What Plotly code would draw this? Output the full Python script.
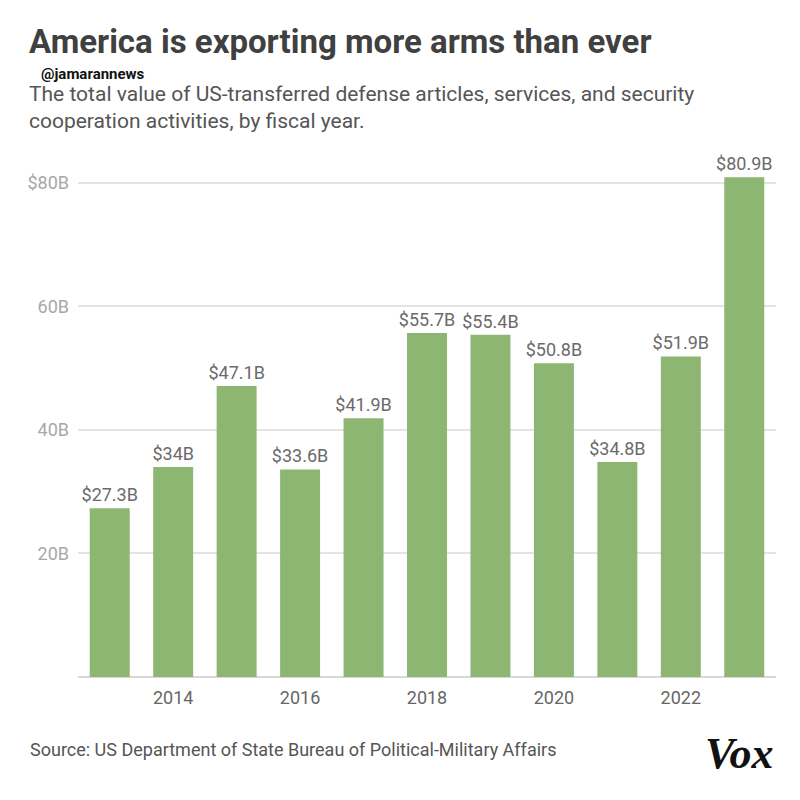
import plotly.graph_objects as go

years = [2013, 2014, 2015, 2016, 2017, 2018, 2019, 2020, 2021, 2022, 2023]
values = [27.3, 34, 47.1, 33.6, 41.9, 55.7, 55.4, 50.8, 34.8, 51.9, 80.9]
labels = ["$27.3B", "$34B", "$47.1B", "$33.6B", "$41.9B", "$55.7B", "$55.4B",
          "$50.8B", "$34.8B", "$51.9B", "$80.9B"]
ytick_vals = [0, 20, 40, 60, 80]
ytick_text = ["", "20B", "40B", "60B", "$80B"]
xtick_vals = [2014, 2016, 2018, 2020, 2022]

fig = go.Figure()
fig.add_trace(go.Bar(
    x=years, y=values, text=labels, textposition="outside",
    textfont=dict(family="Roboto", size=18, color="#6b6b6b"),
    constraintext="none",
    marker=dict(color="#8db672", line=dict(width=0)),
    width=0.63, cliponaxis=False,
))

fig.update_layout(
    width=800, height=800,
    paper_bgcolor="white", plot_bgcolor="white",
    margin=dict(l=70, r=32, t=147, b=131),
    showlegend=False,
    xaxis=dict(range=[2012.5, 2023.5], tickvals=xtick_vals, showgrid=False,
               zeroline=False, showline=False, ticks="", ticklabelstandoff=8,
               tickfont=dict(family="Roboto", size=18, color="#666666")),
    yaxis=dict(range=[0, 84.5], tickvals=ytick_vals, ticktext=ytick_text,
               showgrid=True, gridcolor="#e4e4e4", gridwidth=1.5,
               zeroline=True, zerolinecolor="#d8d8d8", zerolinewidth=1.5,
               ticks="", ticklabelstandoff=8,
               tickfont=dict(family="Roboto", size=18, color="#a8a8a8")),
    bargap=0.37,
)

fig.add_annotation(xref="paper", yref="paper", x=-0.0716, y=1.2165, xanchor="left",
                   yanchor="middle", showarrow=False, borderpad=0,
                   text="<b>America is exporting more arms than ever</b>",
                   font=dict(family="Roboto", size=33, color="#404040"))
fig.add_annotation(xref="paper", yref="paper", x=-0.0544, y=1.1552, xanchor="left",
                   yanchor="middle", showarrow=False, borderpad=0,
                   text="<b>@jamarannews</b>",
                   font=dict(family="Roboto", size=15, color="#111111"))
fig.add_annotation(xref="paper", yref="paper", x=-0.0716, y=1.0915, xanchor="left",
                   yanchor="middle", showarrow=False, align="left", borderpad=0,
                   text="The total value of US-transferred defense articles, services, and security<br>cooperation activities, by fiscal year.",
                   font=dict(family="Roboto", size=21, color="#555555"))
fig.add_annotation(xref="paper", yref="paper", x=-0.0716, y=-0.1398, xanchor="left",
                   yanchor="middle", showarrow=False,
                   text="Source: US Department of State Bureau of Political-Military Affairs",
                   font=dict(family="Roboto", size=18, color="#555555"))
fig.add_annotation(xref="paper", yref="paper", x=0.9986, y=-0.146, xanchor="right",
                   yanchor="middle", showarrow=False,
                   text="<b><i>Vox</i></b>",
                   font=dict(family="Liberation Serif", size=44, color="#111111"))

fig.write_html("out.html")
